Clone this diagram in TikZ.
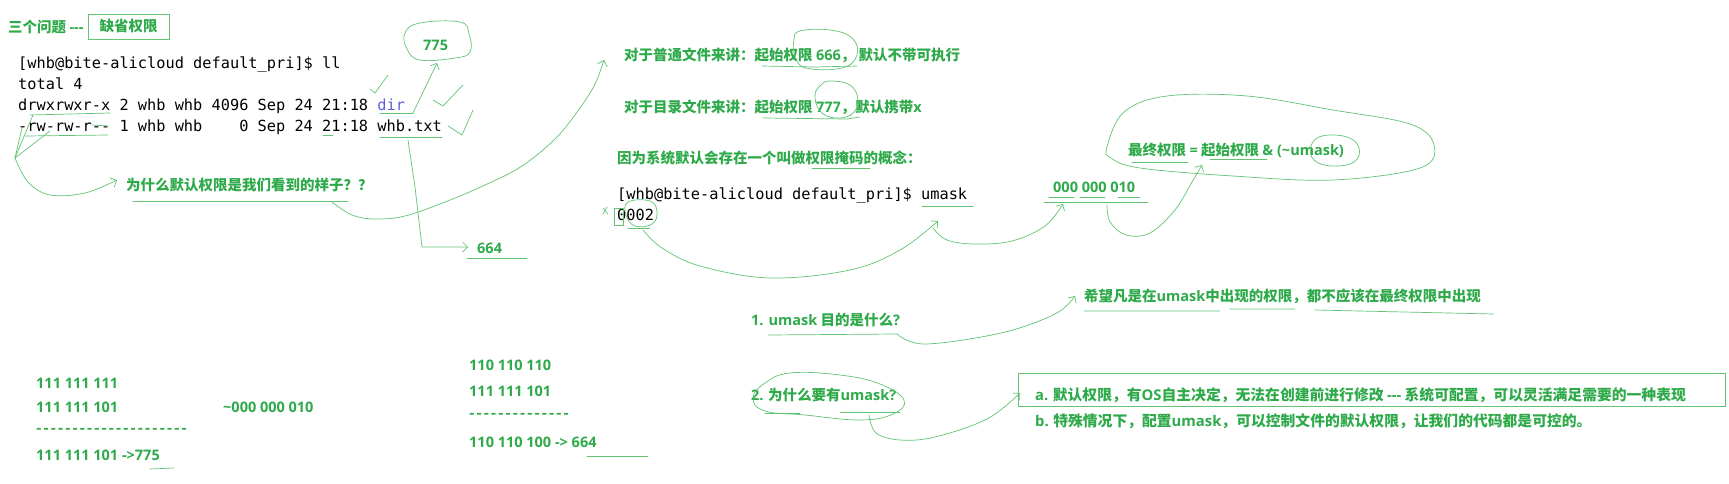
\documentclass[tikz,border=0pt]{standalone}
\usepackage{fontspec}
\newfontfamily\cjk{Noto Sans CJK SC}
\newfontfamily\latfont{Open Sans}
\newfontfamily\mono{DejaVu Sans Mono}
\usetikzlibrary{arrows.meta}
\definecolor{tgreen}{RGB}{46,170,74}
\definecolor{lgreen}{RGB}{96,196,116}
\definecolor{dirblue}{RGB}{96,96,220}
\newcommand\dd{-\kern1.7pt}
\newcommand\latn[1]{{\latfont\bfseries #1}}
\begin{document}
\begin{tikzpicture}[x=1pt,y=-1pt,
  gtxt/.style={font=\cjk\bfseries\fontsize{14.5}{17}\selectfont,text=tgreen,inner sep=0pt,anchor=west},
  gbig/.style={gtxt,font=\cjk\bfseries\fontsize{14.8}{18}\selectfont},
  term/.style={font=\mono\fontsize{15.3}{18}\selectfont,inner sep=0pt,anchor=base west},
  hand/.style={draw=lgreen,line width=0.7pt,line cap=round,line join=round},
  harrow/.style={hand,-{Straight Barb[length=5pt,width=10pt]}},
  frame/.style={draw=lgreen,line width=0.8pt}]
\fill[white] (0,0) rectangle (1729,483);
\useasboundingbox (0,0) rectangle (1729,483);

% ---------- top left ----------
\node[gtxt] (q3) at (8,27) {三个问题 \latn{---}};
\node[gtxt,frame,anchor=center,minimum width=81pt,minimum height=25pt] (qs) at (128.5,26.5) {缺省权限};

\node[term] (t1) at (18,68) {[whb@bite-alicloud default\_pri]\$ ll};
\node[term] (t2) at (18,89) {total 4};
\node[term] (t3) at (18,110) {drwxrwxr-x 2 whb whb 4096 Sep 24 21:18 {\color{dirblue}dir}};
\node[term] (t4) at (18,131) {-rw-rw-r-- 1 whb whb \hphantom{409}0 Sep 24 21:18 whb.txt};

% marks on permissions
\draw[hand] (30,115) -- (110,113);
\draw[hand] (25,136) -- (108,135);
\draw[hand] (92,125) -- (108,126);
\coordinate (pj) at (15,158);
\draw[hand] (33,115) -- (pj);
\draw[hand] (50,131) -- (pj);
\draw[hand] (22,128) -- (pj);
\node[gtxt] (why) at (126,185) {为什么默认权限是我们看到的样子？？};
\draw[harrow] plot[smooth,tension=0.6] coordinates {(pj) (28,182) (50,195) (85,193) (117,180)};
\draw[hand] (133,201) -- (348,201);

% 775
\node[gtxt] (n775) at (423,45) {\latn{775}};
\draw[hand] plot[smooth cycle,tension=0.7] coordinates {(420,23) (460,22) (469,34) (470,52) (455,58) (420,60) (407,49) (405,33)};
\draw[hand] (380,113) -- (413,113);
\draw[harrow] (413,113) -- (437,63);
% check marks
\draw[hand] (370,89) -- (375,93) -- (388,75);
\draw[hand] (433,100) -- (443,106) -- (463,85);
\draw[hand] (448,126) -- (462,135) -- (473,110);
\draw[hand] (323,135) -- (333,135);

% whb.txt -> 664
\draw[hand] (380,137) -- (442,137);
\node[gtxt] (n664) at (477,248) {\latn{664}};
\draw[harrow] (408,140) -- (415,187) -- (422,247) -- (468,247);
\draw[hand] (467,258) -- (527,258);

% curve from question to file rules
\draw[harrow] plot[smooth,tension=0.6] coordinates {(332,202) (352,215) (375,219) (405,216) (445,202) (485,185) (522,166) (556,138) (580,108) (595,84) (604,60)};

% ---------- middle ----------
\node[gtxt] (f1) at (624,55) {对于普通文件来讲：起始权限 \latn{666}， 默认不带可执行};
\draw[hand] (762,66) -- (815,67) -- (857,66);
\draw[hand] plot[smooth cycle,tension=0.7] coordinates {(800,31) (830,30) (852,38) (857,55) (842,68) (806,68) (795,56) (794,40)};
\node[gtxt] (f2) at (624,107) {对于目录文件来讲：起始权限 \latn{777}，默认携带\latn{x}};
\draw[hand] (763,118) -- (847,119) -- (860,117);
\draw[hand] plot[smooth cycle,tension=0.7] coordinates {(830,81) (850,85) (858,100) (852,114) (835,118) (820,111) (815,95) (821,85)};
\node[gtxt] (f3) at (617,158) {因为系统默认会存在一个叫做权限掩码的概念：};
\draw[hand] (812,168) -- (870,168);

\node[term] (u1) at (617,199) {[whb@bite-alicloud default\_pri]\$ umask};
\node[term] (u2) at (617,220) {0002};
\draw[hand] (614,208) rectangle (623,225);
\draw[hand] plot[smooth cycle,tension=0.7] coordinates {(628,202) (650,201) (657,212) (652,224) (635,226) (626,215)};
\draw[hand] (603,208) -- (608,214) (603,214) -- (607,207);
\draw[hand] (628,228) -- (650,228);
\draw[hand] (922,206) -- (973,206);
\draw[harrow] plot[smooth,tension=0.6] coordinates {(643,230) (662,248) (700,266) (770,278) (850,270) (900,250) (938,221)};

\node[gtxt] (m1) at (1053,187) {\latn{000 000 010}};
\draw[hand] (1049,197) -- (1074,197) (1080,197) -- (1105,197) (1118,197) -- (1140,197);
\draw[hand] (1044,202) -- (1148,202);
\draw[harrow] plot[smooth,tension=0.6] coordinates {(933,228) (947,240) (975,244) (1012,241) (1045,226) (1063,204)};

\node[gtxt] (fm) at (1128,150) {最终权限 \latn{=} 起始权限 \latn{\& (\textasciitilde umask)}};
\draw[hand] (1132,162) -- (1188,162);
\draw[hand] (1210,159) -- (1267,159);
\draw[harrow] plot[smooth,tension=0.6] coordinates {(1107,205) (1110,222) (1126,235) (1150,233) (1175,210) (1192,182) (1202,165)};
\draw[hand] plot[smooth cycle,tension=0.6] coordinates {(1107,147) (1124,112) (1167,96) (1247,96) (1333,110) (1410,124) (1434,145) (1420,168) (1333,180) (1233,176) (1140,168) (1111,158)};
\draw[hand] plot[smooth cycle,tension=0.7] coordinates {(1322,136) (1347,137) (1359,148) (1354,162) (1332,166) (1314,160) (1311,146)};

% ---------- umask questions ----------
\node[gtxt] (q1) at (751,320) {\latn{1. umask} 目的是什么\latn{?}};
\draw[hand] (768,335) -- (897,334);
\node[gtxt] (h1) at (1084,296) {希望凡是在\latn{umask}中出现的权限，都不应该在最终权限中出现};
\draw[hand] (1084,311) -- (1220,311) (1230,309) -- (1295,309) (1315,310) -- (1494,314);
\draw[harrow] plot[smooth,tension=0.6] coordinates {(897,334) (925,344) (1001,333) (1055,314) (1075,296)};

\node[gtxt] (q2) at (751,395) {\latn{2.} 为什么要有\latn{umask?}};
\draw[hand] plot[smooth cycle,tension=0.7] coordinates {(765,383) (790,373) (840,375) (880,384) (904,400) (893,414) (860,420) (805,415) (765,411) (753,398)};
\draw[hand] (765,413) -- (800,413) (840,412) -- (900,412);
\draw[harrow] plot[smooth,tension=0.6] coordinates {(869,415) (876,433) (900,440) (935,437) (987,419) (1020,393)};

\draw[frame] (1018,373) rectangle (1725,406);
\node[gbig] (ra) at (1035,395) {\latn{a.} 默认权限，有\latn{OS}自主决定，无法在创建前进行修改 \latn{---} 系统可配置，可以灵活满足需要的一种表现};
\node[gbig] (rb) at (1035,421) {\latn{b.} 特殊情况下，配置\latn{umask}，可以控制文件的默认权限，让我们的代码都是可控的。};

% ---------- bottom arithmetic ----------
\node[gtxt] (b1) at (36,383) {\latn{111 111 111}};
\node[gtxt] (b2) at (36,407) {\latn{111 111 101}};
\node[gtxt] (b3) at (223,407) {\latn{\textasciitilde 000 000 010}};
\node[gtxt] (b4) at (36,431) {\dd\dd\dd\dd\dd\dd\dd\dd\dd\dd\dd\dd\dd\dd\dd\dd\dd\dd\dd\dd-};
\node[gtxt] (b5) at (36,455) {\latn{111 111 101 ->775}};
\draw[hand] (150,469) -- (174,468);

\node[gtxt] (c1) at (469,365) {\latn{110 110 110}};
\node[gtxt] (c2) at (469,391) {\latn{111 111 101}};
\node[gtxt] (c3) at (469,416) {\dd\dd\dd\dd\dd\dd\dd\dd\dd\dd\dd\dd\dd-};
\node[gtxt] (c4) at (469,442) {\latn{110 110 100 -> 664}};
\draw[hand] (587,456) -- (648,456);
\end{tikzpicture}
\end{document}
